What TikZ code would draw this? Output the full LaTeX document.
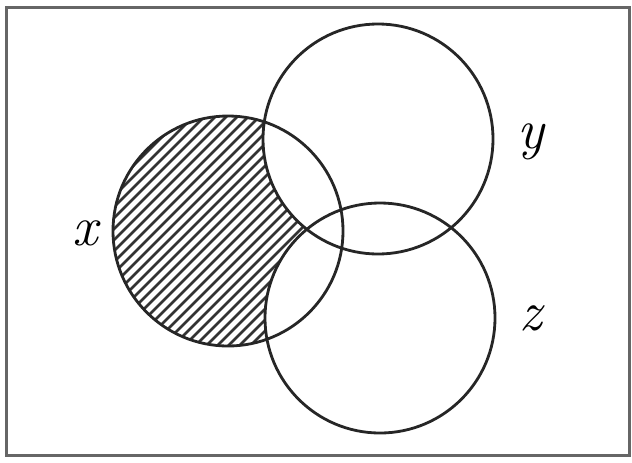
\documentclass[tikz,border=0pt]{standalone}
\usepackage{amsmath}
\usepackage{tikz}

\begin{document}
\begin{tikzpicture}[x=0.025cm,y=-0.025cm,
  ring/.style={draw=black!85,line width=2.8*0.025cm},
  hatch/.style={black!80,line width=2.6*0.025cm},
  setlabel/.style={inner sep=0pt,font=\fontsize{40}{44}\selectfont\itshape}]
  \useasboundingbox (0,0) rectangle (632,462);
  \draw[black!60,line width=3*0.025cm] (6,7) rectangle (629,455);
  \coordinate (cx) at (228,231);
  \coordinate (cy) at (378,139);
  \coordinate (cz) at (380,318);
  % x without y and z
  \begin{scope}
    \clip (cx) circle (115);
    \foreach \a in {-160,-149,...,360}
      \draw[hatch] (\a,360) -- ++(260,-260);
    \fill[white] (cy) circle (115);
    \fill[white] (cz) circle (115);
  \end{scope}
  \draw[ring] (cx) circle (115);
  \draw[ring] (cy) circle (115);
  \draw[ring] (cz) circle (115);
  \node[setlabel] (lx) at (85,233) {x};
  \node[setlabel] (ly) at (531,142) {y};
  \node[setlabel] (lz) at (531,318) {z};
\end{tikzpicture}
\end{document}
